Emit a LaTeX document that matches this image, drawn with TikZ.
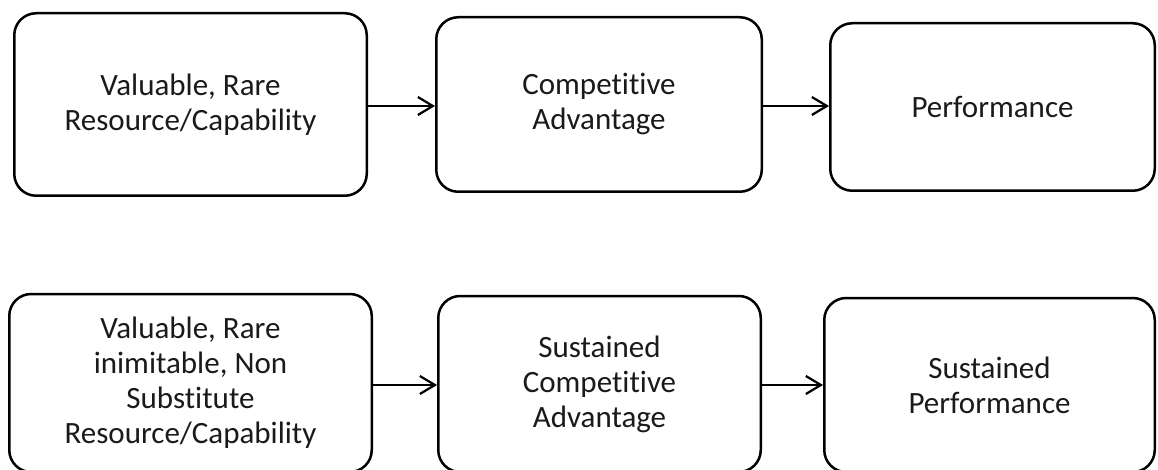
\documentclass[tikz,border=0pt]{standalone}
\usepackage{fontspec}
\setmainfont[RawFeature={-liga}]{Carlito}
\usetikzlibrary{arrows.meta}
\definecolor{txt}{HTML}{1A1A1A}
\tikzset{
  box/.style={draw=black, line width=2.5pt, rounded corners=22pt, align=center,
    text=txt, font=\fontsize{31}{35}\selectfont, inner sep=0pt},
  conn/.style={draw=black, line width=2.2pt, -{Straight Barb[length=15pt,width=18pt,line width=2.2pt]}}
}
\begin{document}
\begin{tikzpicture}[x=1pt,y=-1pt]
\useasboundingbox (0,0) rectangle (1158,470);
\node[box, minimum width=352.5pt, minimum height=182.5pt] (a1) at (190.5,104.5) {Valuable, Rare\\Resource/Capability};
\node[box, minimum width=325.5pt, minimum height=174.5pt] (b1) at (599,104.5) {Competitive\\Advantage};
\node[box, minimum width=324.5pt, minimum height=167.5pt] (c1) at (992.5,107) {Performance};
\node[box, minimum width=362.5pt, minimum height=178pt] (a2) at (190.5,383) {Valuable, Rare\\inimitable, Non\\Substitute\\Resource/Capability};
\node[box, minimum width=322.5pt, minimum height=176pt] (b2) at (599.5,384) {Sustained\\Competitive\\Advantage};
\node[box, minimum width=330.5pt, minimum height=174pt] (c2) at (989.5,385) {Sustained\\Performance};
\coordinate (r1) at (0,106);
\coordinate (r2) at (0,385);
\draw[conn] (a1.east |- r1) -- (b1.west |- r1);
\draw[conn] (b1.east |- r1) -- (c1.west |- r1);
\draw[conn] (a2.east |- r2) -- (b2.west |- r2);
\draw[conn] (b2.east |- r2) -- (c2.west |- r2);
\end{tikzpicture}
\end{document}
